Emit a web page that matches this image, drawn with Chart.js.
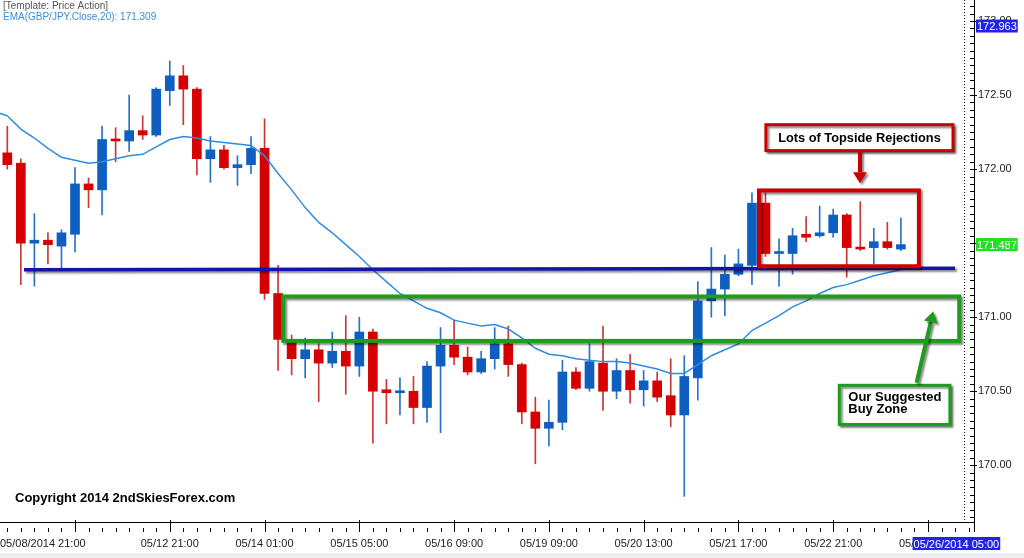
<!DOCTYPE html>
<html>
<head>
<meta charset="utf-8">
<title>GBP/JPY H4 - Price Action</title>
<script src="https://cdn.jsdelivr.net/npm/chart.js@4.4.1/dist/chart.umd.min.js"></script>
<style>
  html, body { margin: 0; padding: 0; }
  body {
    width: 1024px; height: 558px; overflow: hidden;
    background: linear-gradient(to bottom, #ffffff 553px, #eceef2 553px);
  }
  #wrap { position: relative; width: 1024px; height: 558px; }
</style>
</head>
<body>
<div id="wrap"><canvas id="chartFx"></canvas></div>
<script>
/* GBP/JPY H4 candles (bar 0 = first visible bar) */
var opens = [172.11, 172.04, 171.50, 171.52, 171.48, 171.56, 171.90, 171.86, 172.20, 172.19,
  172.26, 172.23, 172.53, 172.63, 172.54, 172.07, 172.13, 172.01, 172.03, 172.14,
  171.16, 170.85, 170.72, 170.78, 170.69, 170.77, 170.67, 170.90, 170.51, 170.49,
  170.50, 170.39, 170.67, 170.81, 170.73, 170.63, 170.72, 170.82, 170.68, 170.36,
  170.25, 170.29, 170.63, 170.52, 170.69, 170.50, 170.64, 170.51, 170.57, 170.47,
  170.34, 170.59, 171.11, 171.19, 171.29, 171.35, 171.77, 171.43, 171.43, 171.56,
  171.55, 171.57, 171.69, 171.47, 171.47, 171.51, 171.46];
var highs = [172.29, 172.07, 171.70, 171.57, 171.59, 172.01, 171.94, 172.29, 172.28, 172.50,
  172.36, 172.55, 172.73, 172.70, 172.55, 172.22, 172.16, 172.09, 172.22, 172.34,
  171.35, 170.88, 170.86, 170.82, 170.90, 171.01, 171.00, 170.92, 170.58, 170.59,
  170.60, 170.70, 170.93, 170.98, 170.80, 170.77, 170.93, 170.94, 170.69, 170.46,
  170.44, 170.71, 170.66, 170.82, 170.94, 170.72, 170.75, 170.64, 170.63, 170.72,
  170.74, 171.24, 171.47, 171.42, 171.46, 171.84, 171.84, 171.53, 171.60, 171.68,
  171.75, 171.73, 171.70, 171.78, 171.60, 171.64, 171.67];
var lows = [172.00, 171.22, 171.21, 171.36, 171.33, 171.44, 171.74, 171.69, 172.05, 172.12,
  172.20, 172.22, 172.43, 172.30, 171.96, 171.91, 172.00, 171.89, 171.97, 171.12,
  170.64, 170.61, 170.59, 170.43, 170.66, 170.48, 170.60, 170.15, 170.28, 170.34,
  170.28, 170.29, 170.22, 170.68, 170.61, 170.62, 170.65, 170.60, 170.28, 170.01,
  170.13, 170.24, 170.51, 170.50, 170.37, 170.45, 170.42, 170.40, 170.43, 170.26,
  169.79, 170.44, 171.00, 171.01, 171.28, 171.22, 171.41, 171.21, 171.29, 171.51,
  171.54, 171.54, 171.27, 171.45, 171.36, 171.46, 171.45];
var closes = [172.03, 171.50, 171.52, 171.49, 171.57, 171.90, 171.86, 172.20, 172.19, 172.26,
  172.23, 172.54, 172.63, 172.54, 172.07, 172.13, 172.01, 172.03, 172.14, 171.16,
  170.85, 170.72, 170.78, 170.69, 170.77, 170.67, 170.90, 170.50, 170.49, 170.50,
  170.39, 170.67, 170.81, 170.73, 170.63, 170.72, 170.82, 170.68, 170.36, 170.25,
  170.29, 170.63, 170.52, 170.70, 170.50, 170.64, 170.51, 170.57, 170.46, 170.34,
  170.60, 171.11, 171.19, 171.29, 171.36, 171.77, 171.43, 171.44, 171.55, 171.54,
  171.57, 171.69, 171.47, 171.46, 171.51, 171.47, 171.49];

/* EMA(20) on close, one value per bar, plus the bar just left of the window */
var emaBefore = 172.39;
var emaValues = [172.36, 172.27, 172.21, 172.14, 172.08, 172.06, 172.04, 172.05, 172.07, 172.09,
  172.10, 172.15, 172.20, 172.22, 172.21, 172.19, 172.18, 172.17, 172.16, 172.09,
  171.97, 171.86, 171.74, 171.64, 171.57, 171.49, 171.41, 171.32, 171.24, 171.16,
  171.11, 171.06, 171.03, 170.98, 170.96, 170.94, 170.95, 170.92, 170.86, 170.79,
  170.75, 170.74, 170.72, 170.71, 170.70, 170.70, 170.69, 170.67, 170.65, 170.62,
  170.62, 170.68, 170.74, 170.78, 170.82, 170.91, 170.96, 171.01, 171.07, 171.11,
  171.16, 171.20, 171.22, 171.25, 171.28, 171.30, 171.32];
var emaHeaderValue = '171.309';

/* time scale */
var majorBars = [5, 12, 19, 26, 33, 40, 47, 54, 61, 68];
var majorLabels = ['', '05/12 21:00', '05/14 01:00', '05/15 05:00', '05/16 09:00',
  '05/19 09:00', '05/20 13:00', '05/21 17:00', '05/22 21:00', '05/26 01:00'];
var firstDateLabel = '05/08/2014 21:00';

/* price scale */
var priceLabels = [170.00, 170.50, 171.00, 171.50, 172.00, 172.50, 173.00];
var priceMin = 169.617, priceMax = 173.142;
var barMin = -0.54, barMax = 71.4;

/* objects drawn on the chart, in bar index / price units */
var supportLine = { x0: 1.23, x1: 70.0, p0: 171.32, p1: 171.33 };
var buyZone = { x0: 20.38, x1: 70.31, top: 171.14, bottom: 170.84 };
var rejectBox = { x0: 55.52, x1: 67.33, top: 171.856, bottom: 171.344 };
var rejectNote = { x0: 56.03, x1: 69.85, top: 172.30, bottom: 172.125, lines: ['Lots of Topside Rejections'] };
var buyNote = { x0: 61.45, x1: 69.62, top: 170.54, bottom: 170.276, lines: ['Our Suggested', 'Buy Zone'] };
var rejectArrow = { x0: 62.98, p0: 172.125, x1: 62.98, p1: 171.905 };
var buyArrow = { x0: 67.16, p0: 170.557, x1: 68.39, p1: 171.04 };
var shiftMarkBar = 70.66;

var bidPrice = 171.487;
var crossPrice = 172.963;
var crossBar = 70.1;
var crossTime = '05/26/2014 05:00';

var FONT = '"Liberation Sans", Arial, sans-serif';
var colors = {
  up: '#0f5fc1', down: '#d70000',
  upWick: '#2a72c6', downWick: '#c93838',
  ema: '#2f8ce0', support: '#1414aa',
  green: '#1e9c1e', red: '#cc0000'
};

function isUp(i) { return closes[i] >= opens[i]; }
function px(chart, bar) { return chart.scales.x.getPixelForValue(bar); }
function py(chart, price) { return chart.scales.y.getPixelForValue(price); }

function shadowed(ctx, fn) {
  ctx.save();
  ctx.shadowColor = 'rgba(0, 0, 0, 0.45)';
  ctx.shadowOffsetX = 2;
  ctx.shadowOffsetY = 2;
  ctx.shadowBlur = 2;
  fn();
  ctx.restore();
}

function frame(chart, b, color) {
  var ctx = chart.ctx;
  var x0 = px(chart, b.x0), x1 = px(chart, b.x1), y0 = py(chart, b.top), y1 = py(chart, b.bottom);
  shadowed(ctx, function () {
    ctx.strokeStyle = color;
    ctx.lineWidth = 4;
    ctx.strokeRect(x0, y0, x1 - x0, y1 - y0);
  });
}

function note(chart, n, color, align) {
  var ctx = chart.ctx;
  var x0 = px(chart, n.x0), x1 = px(chart, n.x1), y0 = py(chart, n.top), y1 = py(chart, n.bottom);
  shadowed(ctx, function () {
    ctx.fillStyle = '#ffffff';
    ctx.fillRect(x0, y0, x1 - x0, y1 - y0);
    ctx.strokeStyle = color;
    ctx.lineWidth = 3;
    ctx.strokeRect(x0, y0, x1 - x0, y1 - y0);
  });
  ctx.save();
  ctx.fillStyle = '#000000';
  ctx.textBaseline = 'middle';
  if (align === 'center') {
    ctx.font = 'bold 12.8px ' + FONT;
    ctx.textAlign = 'center';
    ctx.fillText(n.lines[0], (x0 + x1) / 2, (y0 + y1) / 2 + 1);
  } else {
    ctx.font = 'bold 13px ' + FONT;
    ctx.textAlign = 'left';
    n.lines.forEach(function (t, k) { ctx.fillText(t, x0 + 9, y0 + 12 + k * 12.5); });
  }
  ctx.restore();
}

function arrow(chart, a, color) {
  var ctx = chart.ctx;
  var x0 = px(chart, a.x0), y0 = py(chart, a.p0), x1 = px(chart, a.x1), y1 = py(chart, a.p1);
  var ang = Math.atan2(y1 - y0, x1 - x0);
  var head = 11, half = 7;
  var bx = x1 - head * Math.cos(ang), by = y1 - head * Math.sin(ang);
  shadowed(ctx, function () {
    ctx.strokeStyle = color;
    ctx.fillStyle = color;
    ctx.lineWidth = 4;
    ctx.beginPath();
    ctx.moveTo(x0, y0);
    ctx.lineTo(bx, by);
    ctx.stroke();
    ctx.beginPath();
    ctx.moveTo(x1, y1);
    ctx.lineTo(bx + half * Math.sin(ang), by - half * Math.cos(ang));
    ctx.lineTo(bx - half * Math.sin(ang), by + half * Math.cos(ang));
    ctx.closePath();
    ctx.fill();
  });
}

function tag(ctx, text, x, yMid, fill, align) {
  ctx.font = '11px ' + FONT;
  var w = ctx.measureText(text).width + 2;
  var left = align === 'center' ? x - w / 2 : x;
  ctx.fillStyle = fill;
  ctx.fillRect(left, yMid - 7, w, 13);
  ctx.fillStyle = '#ffffff';
  ctx.textAlign = 'left';
  ctx.textBaseline = 'middle';
  ctx.fillText(text, left + 1, yMid + 0.5);
}

/* MT4 style decorations: objects, scale tick marks, labels */
var mtDecor = {
  id: 'mtDecor',
  afterDatasetsDraw: function (chart) {
    var ctx = chart.ctx, a = chart.chartArea;
    ctx.save();
    ctx.beginPath();
    ctx.rect(a.left, a.top, a.right - a.left, a.bottom - a.top);
    ctx.clip();
    shadowed(ctx, function () {
      ctx.strokeStyle = colors.support;
      ctx.lineWidth = 3.5;
      ctx.beginPath();
      ctx.moveTo(px(chart, supportLine.x0), py(chart, supportLine.p0));
      ctx.lineTo(px(chart, supportLine.x1), py(chart, supportLine.p1));
      ctx.stroke();
    });
    frame(chart, buyZone, colors.green);
    frame(chart, rejectBox, colors.red);
    note(chart, rejectNote, colors.red, 'center');
    note(chart, buyNote, colors.green, 'left');
    arrow(chart, rejectArrow, colors.red);
    arrow(chart, buyArrow, colors.green);
    ctx.restore();
  },
  afterDraw: function (chart) {
    var ctx = chart.ctx, a = chart.chartArea, ys = chart.scales.y;
    ctx.save();

    // price scale and time scale tick marks
    ctx.strokeStyle = '#000000';
    ctx.lineWidth = 1;
    ctx.beginPath();
    var k0 = Math.ceil(ys.min / 0.05), k1 = Math.floor(ys.max / 0.05);
    for (var k = k0; k <= k1; k++) {
      var y = Math.round(ys.getPixelForValue(k * 0.05)) + 0.5;
      var majorY = k % 10 === 0;
      ctx.moveTo(a.right - 4, y);
      ctx.lineTo(a.right + (majorY ? 3 : 0), y);
    }
    for (var i = 0; i <= Math.floor(barMax); i++) {
      var x = Math.round(px(chart, i)) + 0.5;
      var majorX = majorBars.indexOf(i) >= 0;
      ctx.moveTo(x, a.bottom + (majorX ? -2 : 6));
      ctx.lineTo(x, a.bottom + 10);
    }
    ctx.moveTo(a.right + 0.5, a.bottom);
    ctx.lineTo(a.right + 0.5, a.bottom + 10);
    ctx.stroke();

    // chart shift marker
    ctx.setLineDash([1, 2]);
    ctx.beginPath();
    var sx = Math.round(px(chart, shiftMarkBar)) + 0.5;
    ctx.moveTo(sx, a.top);
    ctx.lineTo(sx, a.bottom);
    ctx.stroke();
    ctx.setLineDash([]);

    // left edge date of the time scale
    ctx.font = '11px ' + FONT;
    ctx.fillStyle = '#222222';
    ctx.textAlign = 'left';
    ctx.textBaseline = 'middle';
    ctx.fillText(firstDateLabel, a.left, a.bottom + 22);

    // crosshair and bid tags
    tag(ctx, crossPrice.toFixed(3), a.right + 2, py(chart, crossPrice), '#2323e6', 'left');
    tag(ctx, bidPrice.toFixed(3), a.right + 2, py(chart, bidPrice), '#22e022', 'left');
    tag(ctx, crossTime, px(chart, crossBar), a.bottom + 22, '#2323e6', 'center');

    // chart header and copyright
    ctx.font = '10px ' + FONT;
    ctx.textAlign = 'left';
    ctx.textBaseline = 'middle';
    ctx.fillStyle = '#555555';
    ctx.fillText('[Template: Price Action]', a.left + 3, a.top + 6.5);
    ctx.fillStyle = '#3a8ed6';
    ctx.fillText('EMA(GBP/JPY.Close,20): ' + emaHeaderValue, a.left + 3, a.top + 17);
    ctx.font = 'bold 13px ' + FONT;
    ctx.fillStyle = '#000000';
    ctx.fillText('Copyright 2014 2ndSkiesForex.com', a.left + 15, a.bottom - 24);

    ctx.restore();
  }
};

var wickData = highs.map(function (h, i) { return { x: i, y: [lows[i], h] }; });
var bodyData = opens.map(function (o, i) { return { x: i, y: [o, closes[i]] }; });
var emaData = [{ x: -1, y: emaBefore }].concat(emaValues.map(function (v, i) { return { x: i, y: v }; }));

new Chart(document.getElementById('chartFx'), {
  type: 'bar',
  data: {
    datasets: [
      {
        type: 'line', label: 'EMA 20', data: emaData, order: 0,
        borderColor: colors.ema, borderWidth: 1.5, pointRadius: 0, tension: 0, fill: false
      },
      {
        label: 'Body', data: bodyData, order: 1, grouped: false,
        barThickness: 9, minBarLength: 2, borderWidth: 0,
        backgroundColor: function (c) { return isUp(c.dataIndex) ? colors.up : colors.down; }
      },
      {
        label: 'Wick', data: wickData, order: 2, grouped: false,
        barThickness: 1, borderWidth: 0,
        backgroundColor: function (c) { return isUp(c.dataIndex) ? colors.upWick : colors.downWick; }
      }
    ]
  },
  options: {
    responsive: true,
    maintainAspectRatio: false,
    animation: false,
    events: [],
    layout: { padding: 0 },
    plugins: { legend: { display: false }, tooltip: { enabled: false } },
    scales: {
      x: {
        type: 'linear', min: barMin, max: barMax, offset: false,
        afterBuildTicks: function (s) { s.ticks = majorBars.map(function (b) { return { value: b }; }); },
        afterFit: function (s) { s.height = 36; s.paddingLeft = 0; s.paddingRight = 0; },
        ticks: {
          autoSkip: false, maxRotation: 0, padding: 15, color: '#222222',
          font: { family: FONT, size: 11 },
          callback: function (v) { var k = majorBars.indexOf(v); return k < 0 ? '' : majorLabels[k]; }
        },
        grid: { display: true, drawOnChartArea: false, drawTicks: false },
        border: { display: true, color: '#000000', width: 1 }
      },
      y: {
        type: 'linear', position: 'right', min: priceMin, max: priceMax,
        afterBuildTicks: function (s) { s.ticks = priceLabels.map(function (v) { return { value: v }; }); },
        afterFit: function (s) { s.width = 50; s.paddingTop = 0; s.paddingBottom = 0; },
        ticks: {
          padding: 4, color: '#222222', font: { family: FONT, size: 11 },
          callback: function (v) { return v.toFixed(2); }
        },
        grid: { display: true, drawOnChartArea: false, drawTicks: false },
        border: { display: true, color: '#000000', width: 1 }
      }
    }
  },
  plugins: [mtDecor]
});
</script>
</body>
</html>
